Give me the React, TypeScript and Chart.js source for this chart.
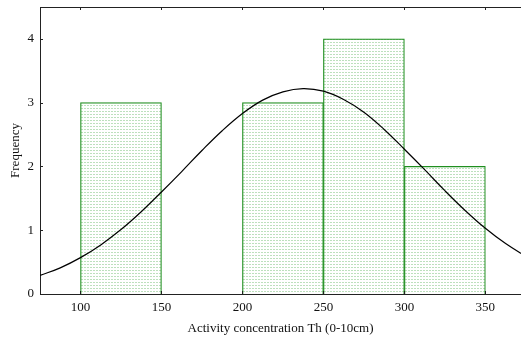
import { useEffect, useRef } from 'react';
import { Chart, registerables } from 'chart.js';

Chart.register(...registerables);

// Histogram bins (centers) and frequencies
const binCenters = [125, 175, 225, 275, 325];
const frequencies = [3, 0, 3, 4, 2];

// Fitted normal curve
const curveX = [75, 87.5, 100, 112.5, 125, 137.5, 150, 162.5, 175, 187.5, 200, 212.5, 225, 237.5, 250, 262.5, 275, 287.5, 300, 312.5, 325, 337.5, 350, 362.5, 375];
const curveY = [0.29, 0.41, 0.57, 0.77, 1.01, 1.29, 1.6, 1.92, 2.25, 2.56, 2.83, 3.04, 3.17, 3.22, 3.18, 3.05, 2.85, 2.58, 2.27, 1.95, 1.62, 1.31, 1.03, 0.79, 0.59];

const xTickValues = [100, 150, 200, 250, 300, 350];
const yTickValues = [0, 1, 2, 3, 4];

const xTitle = 'Activity concentration Th (0-10cm)';
const yTitle = 'Frequency';

const FONT = "'Liberation Serif', 'Times New Roman', serif";

export default function App() {
  const ref = useRef<HTMLCanvasElement | null>(null);

  useEffect(() => {
    document.body.style.margin = '0';
    const canvas = ref.current;
    if (!canvas) return;
    const ctx = canvas.getContext('2d');
    if (!ctx) return;

    const pc = document.createElement('canvas');
    pc.width = 3;
    pc.height = 3;
    const g = pc.getContext('2d')!;
    g.fillStyle = '#ffffff';
    g.fillRect(0, 0, 3, 3);
    g.fillStyle = '#bde0bd';
    g.fillRect(0, 0, 2, 1);
    const pattern = ctx.createPattern(pc, 'repeat')!;

    const frameTicks = {
      id: 'frameTicks',
      afterDatasetsDraw(chart: any) {
        const c = chart.ctx;
        const a = chart.chartArea;
        const xs = chart.scales.x;
        const ys = chart.scales.y;
        c.save();
        c.strokeStyle = '#222';
        c.lineWidth = 1;
        c.beginPath();
        c.moveTo(a.left, a.top + 0.5);
        c.lineTo(a.right, a.top + 0.5);
        for (const v of xTickValues) {
          const px = Math.round(xs.getPixelForValue(v)) + 0.5;
          c.moveTo(px, a.top);
          c.lineTo(px, a.top + 3);
          c.moveTo(px, a.bottom);
          c.lineTo(px, a.bottom - 3);
        }
        for (const v of yTickValues) {
          const py = Math.round(ys.getPixelForValue(v)) + 0.5;
          c.moveTo(a.left, py);
          c.lineTo(a.left + 3, py);
        }
        c.stroke();
        c.restore();
      },
    };

    const chart = new Chart(ctx, {
      type: 'bar',
      data: {
        datasets: [
          {
            type: 'line',
            data: curveX.map((x, i) => ({ x, y: curveY[i] })),
            borderColor: '#000000',
            borderWidth: 1.2,
            pointRadius: 0,
            tension: 0.4,
            fill: false,
            order: 0,
          } as any,
          {
            type: 'bar',
            data: binCenters.map((x, i) => ({ x, y: frequencies[i] })),
            backgroundColor: pattern,
            borderColor: '#1f8f1f',
            borderWidth: 1.2,
            borderSkipped: 'start',
            barPercentage: 1,
            categoryPercentage: 1,
            order: 1,
          } as any,
        ],
      },
      options: {
        responsive: false,
        animation: false,
        layout: { padding: { top: 7, right: 0, left: 0, bottom: 0 } },
        plugins: { legend: { display: false }, tooltip: { enabled: false } },
        scales: {
          x: {
            type: 'linear',
            min: 75,
            max: 372,
            offset: false,
            grid: { display: false, drawTicks: false, tickLength: 0 },
            border: { display: true, color: '#222', width: 1 },
            afterBuildTicks: (s: any) => {
              s.ticks = xTickValues.map((v) => ({ value: v }));
            },
            afterFit: (s: any) => {
              s.height = 47;
              s.paddingLeft = 0;
              s.paddingRight = 0;
            },
            ticks: {
              color: '#111',
              padding: 6,
              maxRotation: 0,
              font: { family: FONT, size: 13 },
            },
            title: {
              display: true,
              text: xTitle,
              color: '#111',
              font: { family: FONT, size: 13 },
              padding: { top: 0, bottom: 5 },
            },
          },
          y: {
            type: 'linear',
            min: 0,
            max: 4.5,
            grid: { display: false, drawTicks: false, tickLength: 0 },
            border: { display: true, color: '#222', width: 1 },
            afterBuildTicks: (s: any) => {
              s.ticks = yTickValues.map((v) => ({ value: v }));
            },
            afterFit: (s: any) => {
              s.width = 40;
              s.paddingTop = 0;
              s.paddingBottom = 0;
            },
            ticks: {
              color: '#111',
              padding: 6,
              font: { family: FONT, size: 13, lineHeight: 1.08 },
            },
            title: {
              display: true,
              text: yTitle,
              color: '#111',
              font: { family: FONT, size: 13 },
              padding: { top: 8, bottom: 0 },
            },
          },
        },
      },
      plugins: [frameTicks],
    });

    return () => chart.destroy();
  }, []);

  return (
    <div style={{ position: 'absolute', left: 0, top: 0, width: 521, height: 341, background: '#fff' }}>
      <canvas ref={ref} width={521} height={341} />
    </div>
  );
}
